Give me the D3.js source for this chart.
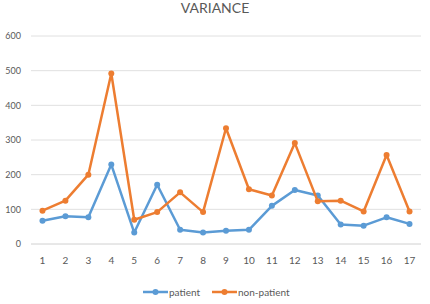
<!DOCTYPE html>
<style>
  body { margin: 0; background: #fff; }
  text { font-family: Lato, "Noto Sans", sans-serif; fill: #595959; }
</style>
<body></body>
<script src="https://cdn.jsdelivr.net/npm/d3@7"></script>
<script>
  const categories = ["1", "2", "3", "4", "5", "6", "7", "8", "9", "10", "11", "12", "13", "14", "15", "16", "17"]
  const patient = [67, 80, 77, 229, 33, 171, 41, 33, 38, 41, 110, 156, 140, 56, 53, 77, 58]
  const nonPatient = [96, 125, 200, 492, 70, 92, 149, 92, 334, 158, 140, 291, 123, 125, 94, 257, 94]
  const yTicks = [0, 100, 200, 300, 400, 500, 600]

  const series = [
    { name: "patient", values: patient, color: "#5b9bd5" },
    { name: "non-patient", values: nonPatient, color: "#ed7d31" }
  ]

  const width = 430
  const height = 304
  const margin = { top: 36, right: 9, bottom: 60, left: 31 }

  const svg = d3.select("body").append("svg")
    .attr("width", width)
    .attr("height", height)

  const x = d3.scaleBand()
    .domain(categories)
    .range([margin.left, width - margin.right])

  const y = d3.scaleLinear()
    .domain([0, 600])
    .range([height - margin.bottom, margin.top])

  svg.append("text")
    .attr("x", 215)
    .attr("y", 13)
    .attr("text-anchor", "middle")
    .style("font-size", "14px")
    .text("VARIANCE")

  // grid
  svg.append("g")
    .selectAll("line")
    .data(yTicks)
    .enter()
    .append("line")
    .attr("x1", margin.left)
    .attr("x2", width - margin.right)
    .attr("y1", d => y(d))
    .attr("y2", d => y(d))
    .attr("stroke", d => d === 0 ? "#d0d0d0" : "#e0e0e0")
    .attr("stroke-width", 1)

  const yAxis = svg.append("g")
    .attr("transform", `translate(${margin.left - 10}, 0)`)
    .call(d3.axisLeft(y).tickValues(yTicks).tickSize(0).tickPadding(0))
  yAxis.select(".domain").remove()
  yAxis.selectAll("text").style("font-size", "9px").style("fill", "#595959")

  const xAxis = svg.append("g")
    .attr("transform", `translate(0, ${y(0) + 13})`)
    .call(d3.axisBottom(x).tickSize(0).tickPadding(0))
  xAxis.select(".domain").remove()
  xAxis.selectAll("text").style("font-size", "10px").style("fill", "#595959")

  const line = d3.line()
    .x((d, i) => x(categories[i]) + x.bandwidth() / 2)
    .y(d => y(d))

  series.forEach(s => {
    const g = svg.append("g")
    g.append("path")
      .datum(s.values)
      .attr("d", line)
      .attr("fill", "none")
      .attr("stroke", s.color)
      .attr("stroke-width", 2.5)
      .attr("stroke-linejoin", "round")
    g.selectAll("circle")
      .data(s.values)
      .enter()
      .append("circle")
      .attr("cx", (d, i) => x(categories[i]) + x.bandwidth() / 2)
      .attr("cy", d => y(d))
      .attr("r", 3)
      .attr("fill", s.color)
  })

  // legend
  const legendItems = [
    { s: series[0], x0: 143 },
    { s: series[1], x0: 212 }
  ]
  const legend = svg.append("g").attr("transform", "translate(0, 292)")
  legendItems.forEach(item => {
    legend.append("line")
      .attr("x1", item.x0).attr("x2", item.x0 + 25)
      .attr("y1", 0).attr("y2", 0)
      .attr("stroke", item.s.color)
      .attr("stroke-width", 2.5)
    legend.append("circle")
      .attr("cx", item.x0 + 12.5).attr("cy", 0).attr("r", 3)
      .attr("fill", item.s.color)
    legend.append("text")
      .attr("x", item.x0 + 26)
      .attr("y", 0)
      .attr("dy", "0.35em")
      .style("font-size", "10px")
      .text(item.s.name)
  })
</script>
